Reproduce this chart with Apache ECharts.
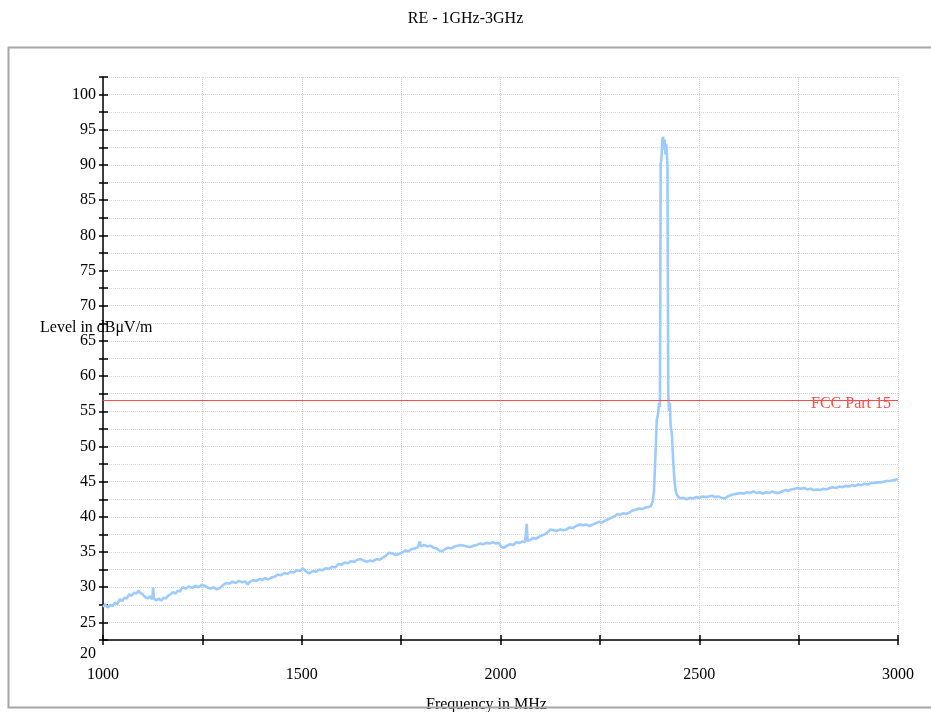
<!DOCTYPE html>
<html>
<head>
<meta charset="utf-8">
<title>RE - 1GHz-3GHz</title>
<script src="https://cdn.jsdelivr.net/npm/echarts@6/dist/echarts.min.js"></script>
<style>
  html, body { margin: 0; padding: 0; background: #fff; }
  #chart { width: 931px; height: 712px; }
</style>
</head>
<body>
<div id="chart"></div>
<script>
// chart text
const titleText = "RE - 1GHz-3GHz";
const yName = "Level in dB\u03bcV/m";
const xName = "Frequency in MHz";
const limitName = "FCC Part 15";

// axis ranges (MHz / dBuV/m)
const freqRange = [1000, 3000];
const levelRange = [22.5, 102.5];
const limitLevel = 56.6;

const trace = [
  [1000,27.2],[1006,27.6],[1012,27.1],[1018,27.5],[1024,27.3],[1030,27.8],[1036,27.6],[1042,28.3],
  [1048,28.0],[1054,28.5],[1060,28.4],[1066,29.0],[1072,28.8],[1078,29.2],[1084,29.1],[1089,29.5],
  [1094,29.2],[1100,29.0],[1106,28.6],[1112,28.4],[1118,28.7],[1124,28.3],[1126,30.0],[1128,28.4],
  [1134,28.1],[1140,28.4],[1146,28.1],[1152,28.5],[1158,28.4],[1164,28.8],[1170,29.0],[1176,29.3],
  [1182,29.1],[1188,29.5],[1194,29.4],[1200,30.0],[1208,29.8],[1216,30.1],[1224,29.9],[1232,30.2],
  [1240,30.0],[1248,30.3],[1256,30.2],[1262,30.0],[1270,29.8],[1278,30.0],[1286,29.7],[1294,29.9],
  [1302,30.3],[1310,30.6],[1318,30.5],[1326,30.8],[1334,30.6],[1342,30.9],[1350,30.7],[1358,30.8],
  [1364,30.4],[1370,30.8],[1378,31.0],[1386,30.9],[1394,31.2],[1400,31.0],[1408,31.3],[1416,31.1],
  [1424,31.4],[1432,31.5],[1440,31.8],[1448,31.7],[1456,32.0],[1464,31.9],[1472,32.2],[1480,32.1],
  [1488,32.4],[1496,32.3],[1502,32.7],[1508,32.4],[1514,32.1],[1520,32.0],[1528,32.3],[1536,32.2],
  [1544,32.5],[1552,32.4],[1560,32.7],[1568,32.6],[1576,32.9],[1584,32.8],[1592,33.3],[1600,33.2],
  [1608,33.5],[1616,33.4],[1624,33.7],[1632,33.6],[1640,33.9],[1648,34.0],[1656,33.8],[1664,33.6],
  [1672,33.8],[1680,33.7],[1688,34.0],[1696,33.9],[1704,34.2],[1712,34.5],[1720,34.9],[1728,34.8],
  [1736,34.6],[1744,34.7],[1752,34.9],[1760,35.2],[1768,35.1],[1776,35.4],[1784,35.5],[1792,35.7],
  [1797,36.5],[1800,35.8],[1808,36.0],[1816,35.8],[1824,35.9],[1832,35.6],[1840,35.5],[1846,35.2],
  [1852,35.1],[1860,35.4],[1868,35.6],[1876,35.5],[1884,35.8],[1892,35.9],[1900,36.0],[1908,35.9],
  [1916,35.8],[1924,35.7],[1932,35.9],[1940,36.0],[1948,36.2],[1956,36.1],[1964,36.3],[1972,36.2],
  [1980,36.4],[1988,36.2],[1996,36.3],[2002,35.7],[2008,35.6],[2016,35.9],[2024,36.1],[2032,36.0],
  [2040,36.4],[2048,36.3],[2056,36.5],[2062,36.4],[2066,39.0],[2068,36.6],[2074,36.7],[2082,37.0],
  [2090,36.9],[2098,37.2],[2106,37.4],[2114,37.6],[2120,37.9],[2126,38.2],[2134,38.1],[2142,38.0],
  [2150,38.2],[2158,38.1],[2166,38.2],[2174,38.5],[2182,38.4],[2190,38.7],[2200,38.9],[2208,38.8],
  [2216,38.9],[2224,38.7],[2232,38.9],[2240,39.1],[2248,39.3],[2256,39.2],[2264,39.5],[2272,39.7],
  [2280,39.9],[2288,40.1],[2294,40.4],[2300,40.3],[2308,40.5],[2316,40.4],[2324,40.6],[2332,40.9],
  [2340,41.0],[2348,41.2],[2356,41.1],[2364,41.3],[2372,41.4],[2378,41.5],[2383,42.2],[2386,43.5],
  [2388,46.2],[2391,50.5],[2393,53.8],[2396,54.5],[2399,56.2],[2401,55.6],[2403,90.2],[2405,91.0],
  [2407,93.5],[2409,94.0],[2411,92.2],[2413,93.6],[2415,91.5],[2417,93.0],[2419,91.1],[2420,90.0],
  [2422,57.5],[2424,55.0],[2426,56.2],[2428,53.0],[2431,51.8],[2433,49.5],[2435,47.4],[2438,45.0],
  [2441,43.6],[2444,43.1],[2448,42.8],[2454,42.6],[2460,42.7],[2468,42.5],[2476,42.7],[2484,42.6],
  [2492,42.8],[2500,42.7],[2508,42.9],[2516,42.8],[2524,42.9],[2532,43.0],[2540,42.8],[2548,42.9],
  [2556,42.7],[2564,42.6],[2572,42.9],[2580,43.1],[2588,43.2],[2596,43.3],[2604,43.4],[2612,43.3],
  [2620,43.5],[2628,43.4],[2636,43.6],[2644,43.4],[2652,43.5],[2660,43.3],[2668,43.5],[2676,43.4],
  [2684,43.6],[2692,43.4],[2700,43.4],[2708,43.6],[2716,43.8],[2724,43.7],[2732,43.9],[2740,44.0],
  [2748,44.1],[2756,44.0],[2764,44.1],[2772,43.9],[2780,44.0],[2788,43.8],[2796,43.9],[2804,43.8],
  [2812,44.0],[2820,43.9],[2828,44.1],[2836,44.2],[2844,44.1],[2852,44.3],[2860,44.2],[2868,44.4],
  [2876,44.3],[2884,44.5],[2892,44.4],[2900,44.6],[2908,44.5],[2916,44.7],[2924,44.6],[2932,44.8],
  [2940,44.8],[2948,44.9],[2956,44.9],[2964,45.0],[2972,45.1],[2980,45.1],[2988,45.2],[2996,45.3],
  [3000,45.4]
];

const serif = "'Liberation Serif', 'DejaVu Serif', serif";
const chart = echarts.init(document.getElementById("chart"));

// two axes per direction so the ticks cross the axis line like the original
const xBase = {
  type: "value", min: freqRange[0], max: freqRange[1], interval: 250,
  position: "bottom", gridIndex: 0
};
const yBase = {
  type: "value", min: levelRange[0], max: levelRange[1], interval: 2.5,
  position: "left", gridIndex: 0
};

const option = {
  animation: false,
  backgroundColor: "#fff",
  textStyle: { fontFamily: serif },
  title: {
    text: titleText, left: "center", top: 6,
    textStyle: { fontFamily: serif, fontWeight: "normal", fontSize: 16, color: "#000" }
  },
  grid: { left: 103, right: 33, top: 77, bottom: 72, containLabel: false },
  xAxis: [
    Object.assign({}, xBase, {
      axisLine: { lineStyle: { color: "#000", width: 1.5 } },
      axisTick: { inside: false, length: 5, lineStyle: { color: "#000", width: 1.5 } },
      axisLabel: {
        margin: 27, color: "#000", fontSize: 16, fontFamily: serif,
        formatter: v => (v % 500 === 0 ? String(v) : "")
      },
      splitLine: { show: true, lineStyle: { color: "#d4d4d4", type: "dotted", width: 1 } }
    }),
    Object.assign({}, xBase, {
      axisLine: { show: false },
      axisTick: { inside: true, length: 5, lineStyle: { color: "#000", width: 1.5 } },
      axisLabel: { show: false },
      splitLine: { show: false }
    })
  ],
  yAxis: [
    Object.assign({}, yBase, {
      axisLine: { lineStyle: { color: "#000", width: 1.5 } },
      axisTick: { inside: false, length: 4, lineStyle: { color: "#000", width: 1.5 } },
      axisLabel: {
        margin: 7, color: "#000", fontSize: 16, fontFamily: serif,
        padding: [0, 0, 5, 0],
        formatter: v => (v % 5 === 0 ? String(v) : "")
      },
      splitLine: { show: true, lineStyle: { color: "#d4d4d4", type: "dotted", width: 1 } }
    }),
    Object.assign({}, yBase, {
      axisLine: { show: false },
      axisTick: { inside: true, length: 5, lineStyle: { color: "#000", width: 1.5 } },
      axisLabel: { show: false },
      splitLine: { show: false }
    })
  ],
  series: [
    {
      name: "RE",
      type: "line",
      xAxisIndex: 0,
      yAxisIndex: 0,
      data: trace,
      showSymbol: false,
      symbol: "none",
      lineStyle: { color: "#9dcbff", width: 2.6 },
      z: 3,
      markLine: {
        silent: true,
        symbol: ["none", "none"],
        lineStyle: { color: "#ff4a4a", width: 1, type: "solid" },
        label: {
          show: true, position: "insideEnd", distance: 7, offset: [0, 4],
          formatter: limitName, color: "#ff4a4a", fontSize: 16, fontFamily: serif
        },
        data: [{ yAxis: limitLevel }]
      }
    }
  ],
  graphic: [
    {
      type: "text", left: 40, top: 320, z: 10,
      style: { text: yName, font: "16px " + serif, fill: "#000" }
    },
    {
      type: "text", right: 835, top: 646, z: 10,
      style: { text: "20", font: "16px " + serif, fill: "#000", textAlign: "right" }
    },
    {
      type: "text", left: 426, top: 697, z: 10,
      style: { text: xName, font: "16px " + serif, fill: "#000" }
    },
    {
      type: "rect", z: 20, silent: true,
      shape: { x: 8.5, y: 47.5, width: 940, height: 660 },
      style: { fill: "none", stroke: "#a6a6a6", lineWidth: 2 }
    }
  ]
};

chart.setOption(option);
</script>
</body>
</html>
